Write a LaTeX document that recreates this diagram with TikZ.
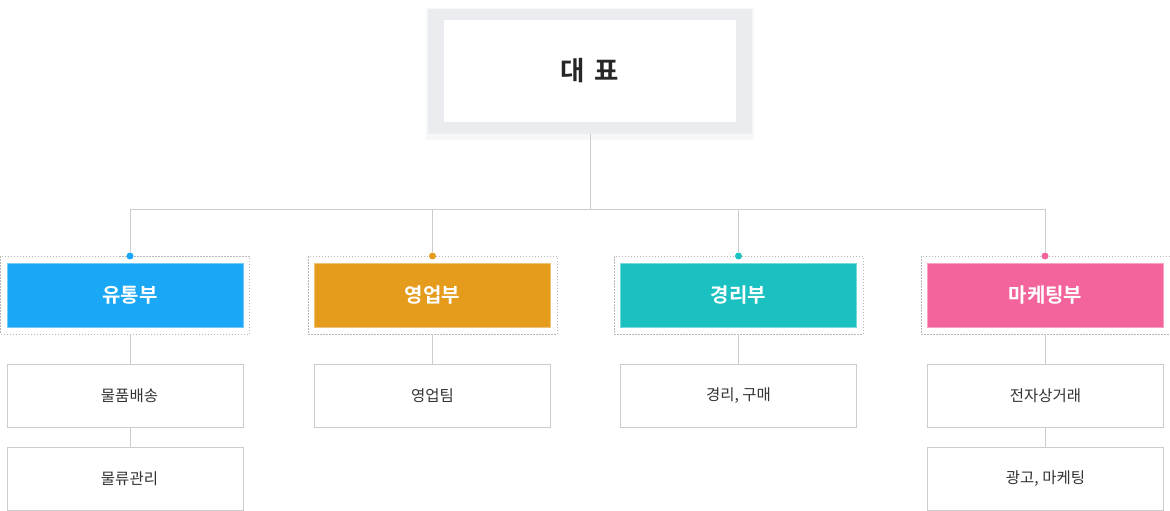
\documentclass[tikz,border=0pt]{standalone}
\usepackage{fontspec}
\setmainfont{Noto Sans CJK KR}
\newfontfamily\kr{Noto Sans CJK KR}
\newfontfamily\krb{Noto Sans CJK KR Bold}
\begin{document}
\begin{tikzpicture}[x=1pt,y=-1pt,
  conn/.style={draw=black!20,line width=0.8pt},
  deptbox/.style={minimum width=236pt,minimum height=64pt,inner sep=0pt,text=white,font=\krb\fontsize{20}{24}\selectfont},
  dotframe/.style={draw=black!28,dash pattern=on 1.5pt off 1.5pt,line width=0.8pt,minimum width=249pt,minimum height=78pt,inner sep=0pt},
  subbox/.style={draw=black!20,line width=0.8pt,fill=white,minimum width=236pt,minimum height=63pt,inner sep=0pt,text=black!80,font=\kr\fontsize{15.5}{18}\selectfont},
  jdot/.style={circle,inner sep=0pt,minimum size=7pt}
]
\useasboundingbox (0,0) rectangle (1170,511);
\fill[white] (0,0) rectangle (1170,511);
\definecolor{cblue}{HTML}{1AA7F5}
\definecolor{corange}{HTML}{E59B1C}
\definecolor{cteal}{HTML}{1BC1C1}
\definecolor{cpink}{HTML}{F4649C}
\definecolor{cframe}{HTML}{EBECEF}
\definecolor{cshadow}{HTML}{F6F7F8}
% top box
\fill[cshadow] (426,8) rectangle (754,140);
\node[fill=cframe,minimum width=324pt,minimum height=125pt,inner sep=0pt] (frame) at (590,71.5) {};
\node[fill=white,minimum width=292pt,minimum height=102pt,inner sep=0pt,font=\krb\fontsize{26.5}{30}\selectfont,text=black!85] (top) at (590,71) {대\hspace{4pt} 표};
% junction
\coordinate (j) at (590,209);
% departments
\foreach \n/\x/\dx/\c/\t in {a/125/130/cblue/\hspace*{10pt}유통부, b/432.5/432.5/corange/영업부, c/738.5/738.5/cteal/경리부, d/1045.5/1045/cpink/마케팅부}{
  \node[dotframe] (\n-frame) at (\x,295) {};
  \node[deptbox,fill=\c,draw=\c!60!white,line width=0.8pt] (\n) at (\x,295) {\t};
  \node[jdot,fill=\c] (\n-dot) at (\dx,256) {};
  \draw[conn] (frame.south) -- (j) -| (\n-dot.north);
}
% sub boxes
\node[subbox] (a1) at (125,395.5) {\hspace*{9pt}물품배송};
\node[subbox] (a2) at (125,478.5) {\hspace*{9pt}물류관리};
\node[subbox] (b1) at (432.5,395.5) {영업팀};
\node[subbox] (c1) at (738.5,395.5) {경리, 구매};
\node[subbox] (d1) at (1045.5,395.5) {전자상거래};
\node[subbox] (d2) at (1045.5,478.5) {광고, 마케팅};
\draw[conn] (a-dot |- a-frame.south) -- (a-dot |- a1.north);
\draw[conn] (a-dot |- a1.south) -- (a-dot |- a2.north);
\draw[conn] (b-dot |- b-frame.south) -- (b-dot |- b1.north);
\draw[conn] (c-dot |- c-frame.south) -- (c-dot |- c1.north);
\draw[conn] (d-dot |- d-frame.south) -- (d-dot |- d1.north);
\draw[conn] (d-dot |- d1.south) -- (d-dot |- d2.north);
\end{tikzpicture}
\end{document}
